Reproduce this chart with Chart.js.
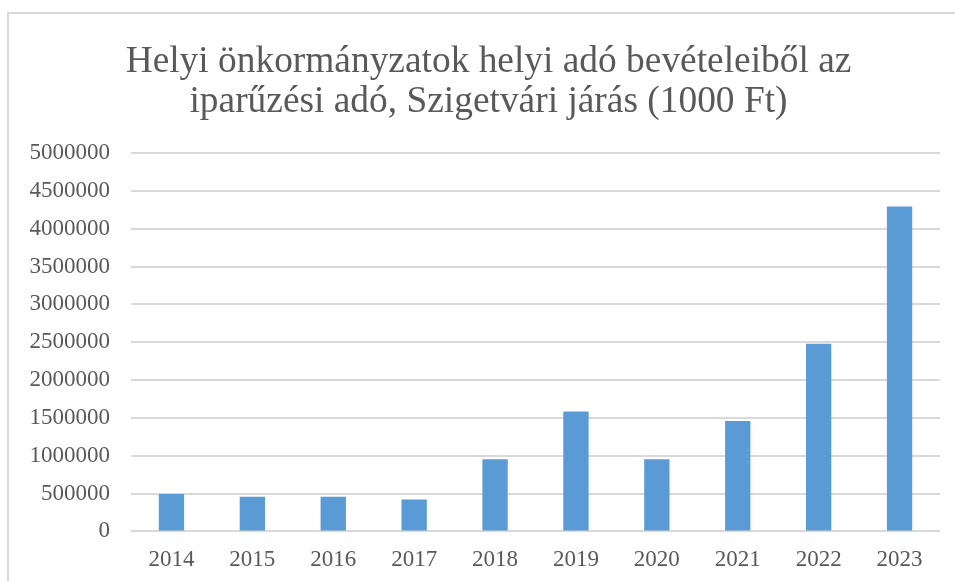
<!DOCTYPE html>
<html>
<head>
<meta charset="utf-8">
<script src="https://cdn.jsdelivr.net/npm/chart.js@4/dist/chart.umd.min.js"></script>
<style>
  html, body { margin: 0; padding: 0; background: #fff; }
  #wrap { position: relative; width: 955px; height: 581px; overflow: hidden; }
  #frame { position: absolute; left: 7px; top: 12px; width: 1000px; height: 700px;
           border-left: 2px solid #d9d9d9; border-top: 2px solid #d9d9d9; }
  canvas { position: absolute; left: 0; top: 0; }
</style>
</head>
<body>
<div id="wrap">
  <div id="frame"></div>
  <canvas id="chart" width="977" height="581"></canvas>
</div>
<script>
// Adatok
const years = ['2014', '2015', '2016', '2017', '2018', '2019', '2020', '2021', '2022', '2023'];
const iparuzesiAdo = [495000, 458000, 458000, 422000, 955000, 1583000, 955000, 1460000, 2480000, 4293000];
const titleLines = ['Helyi önkormányzatok helyi adó bevételeiből az', 'iparűzési adó, Szigetvári járás (1000 Ft)'];

const textColor = '#595959';
const serif = "'Liberation Serif', 'Times New Roman', serif";

const ctx = document.getElementById('chart').getContext('2d');
new Chart(ctx, {
  type: 'bar',
  data: {
    labels: years,
    datasets: [{
      data: iparuzesiAdo,
      backgroundColor: '#5B9BD5',
      borderWidth: 0,
      barPercentage: 0.313,
      categoryPercentage: 1
    }]
  },
  options: {
    responsive: false,
    animation: false,
    layout: { padding: { left: 0, right: 0, top: 42, bottom: 0 } },
    plugins: {
      legend: { display: false },
      tooltip: { enabled: false },
      title: {
        display: true,
        text: titleLines,
        color: textColor,
        font: { family: serif, size: 37.4, weight: 'normal', lineHeight: 1.07 },
        padding: { top: 0, bottom: 31 }
      }
    },
    scales: {
      x: {
        afterFit: scale => { scale.height -= 8; },
        grid: { display: false, drawTicks: false },
        border: { display: false },
        ticks: { color: textColor, font: { family: serif, size: 23 }, padding: 15 }
      },
      y: {
        min: 0,
        max: 5000000,
        afterFit: scale => { scale.width = 131; },
        grid: { color: '#d9d9d9', lineWidth: 2, drawTicks: false },
        border: { display: false },
        ticks: {
          stepSize: 500000,
          color: textColor,
          font: { family: serif, size: 23 },
          padding: 21,
          callback: v => String(v)
        }
      },
      // üres jobb oldali sáv, hogy a cím a keret közepére kerüljön
      jobb: {
        position: 'right',
        afterFit: scale => { scale.width = 37; },
        grid: { display: false, drawTicks: false },
        border: { display: false },
        ticks: { display: false }
      }
    }
  }
});
</script>
</body>
</html>
